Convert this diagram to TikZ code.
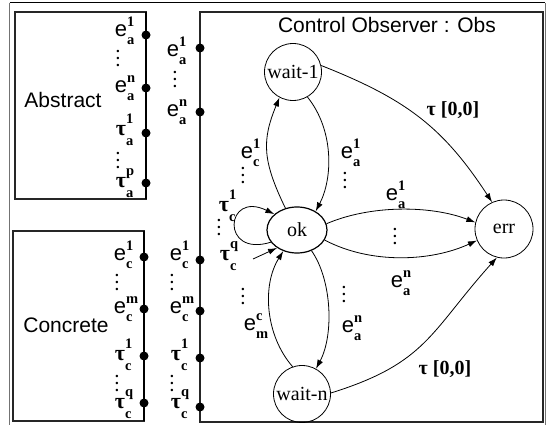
\documentclass[tikz,border=0pt]{standalone}
\usepackage{fontspec}
\setmainfont{Liberation Serif}
\setsansfont{Liberation Sans}
\usetikzlibrary{arrows.meta,shapes.geometric}
\newcommand\scr{\fontsize{14.5}{14.5}\selectfont\rmfamily\bfseries}
\newcommand\Ebase{{\sffamily\mdseries\fontsize{22}{22}\selectfont e}}
\newcommand\Tbase{{\rmfamily\bfseries\fontsize{22}{22}\selectfont τ}}
\newcommand\lblx[5]{\setbox0=\hbox{\scr #2}\setbox2=\hbox{\scr #3}#1\rlap{\raise#4\copy0}\rlap{\lower#5\copy2}\hskip\ifdim\wd0>\wd2 \wd0\else\wd2\fi\relax}
\newcommand\ee[2]{\lblx{\Ebase}{#1}{#2}{10pt}{8pt}}
\newcommand\ttau[2]{\lblx{\Tbase}{#1}{#2}{12pt}{10pt}}
\newcommand\vd{\vbox{\fontsize{15}{7}\selectfont\rmfamily\bfseries\baselineskip=7pt\lineskiplimit=-20pt\hbox{.}\hbox{.}\hbox{.}}}
\tikzset{
  lab/.style={inner sep=0pt, anchor=base},
  dts/.style={inner sep=0pt},
  port/.style={circle, fill=black, inner sep=0pt, minimum size=9pt},
  st/.style={circle, draw, line width=0.8pt, inner sep=1pt, minimum size=57pt, font=\rmfamily\fontsize{20}{22}\selectfont},
  arr/.style={-{Latex[length=9pt,width=6pt]}, line width=0.8pt},
  boxl/.style={draw=black!85, line width=1.6pt},
  big/.style={font=\sffamily\fontsize{21}{24}\selectfont, inner sep=0pt},
  tl/.style={font=\rmfamily\bfseries\fontsize{20}{22}\selectfont, inner sep=0pt}
}
\begin{document}
\begin{tikzpicture}[x=1pt,y=-1pt]
\useasboundingbox (0,0) rectangle (548,425);
% outer frame
\draw[black!55, line width=1pt] (9.5,427) -- (9.5,3);
\draw[black, line width=1pt] (9.5,3) -- (545,3);
\draw[black!55, line width=1pt] (545,3) -- (545,427);
% boxes
\draw[boxl] (15,12) rectangle (146,199);
\draw[black, line width=2pt] (146,12) -- (146,199);
\draw[boxl] (13,231) rectangle (144,421);
\draw[black, line width=2pt] (144,231) -- (144,421);
\draw[boxl] (200,12) rectangle (543,422);

\node[big] (abs) at (63,100) {Abstract};
\node[big] (con) at (66,325) {Concrete};
\node[big] (title) at (387,25) {Control Observer : Obs};

% ports
\foreach \y [count=\i] in {35,88,133,183} \node[port] (pa\i) at (146,\y) {};
\foreach \y [count=\i] in {257,309,356,403} \node[port] (pc\i) at (144,\y) {};
\foreach \y [count=\i] in {48,112,260,311,358,407} \node[port] (po\i) at (200,\y) {};

% abstract labels
\node[lab] (la1) at (121,37) {\ee{1}{a}};
\node[dts] (lad1) at (118,58) {\vd};
\node[lab] (lan) at (121,93) {\ee{n}{a}};
\node[lab] (lt1) at (121,135) {\ttau{1}{a}};
\node[dts] (lad2) at (118,160) {\vd};
\node[lab] (ltp) at (121,187) {\ttau{p}{a}};
\node[lab] (oa1) at (173,57) {\ee{1}{a}};
\node[dts] (oad) at (175,79) {\vd};
\node[lab] (oan) at (173,117) {\ee{n}{a}};

% concrete labels
\node[lab] (lc1) at (120,260) {\ee{1}{c}};
\node[dts] (lcd1) at (117,282) {\vd};
\node[lab] (lcm) at (120,313) {\ee{m}{c}};
\node[lab] (ltc1) at (120,360) {\ttau{1}{c}};
\node[dts] (lcd2) at (117,383) {\vd};
\node[lab] (ltcq) at (120,408) {\ttau{q}{c}};
\node[lab] (oc1) at (176,260) {\ee{1}{c}};
\node[dts] (ocd1) at (172,282) {\vd};
\node[lab] (ocm) at (176,313) {\ee{m}{c}};
\node[lab] (otc1) at (176,360) {\ttau{1}{c}};
\node[dts] (ocd2) at (172,383) {\vd};
\node[lab] (otcq) at (176,408) {\ttau{q}{c}};

% states
\node[st] (wait1) at (293,72) {wait-1};
\node[st] (waitn) at (302,394) {wait-n};
\node[st, minimum size=58pt] (err) at (504,229) {err};
\node[ellipse, draw, line width=1.2pt, minimum width=60pt, minimum height=46pt, inner sep=0pt, font=\rmfamily\fontsize{20}{22}\selectfont] (ok) at (297,230) {ok};

% transitions
\draw[arr] (wait1.13) .. controls (406,99) and (443,127) .. (err.114);
\draw[arr] (waitn.2) .. controls (427,363) and (430,332) .. (err.256);
\draw[arr] (ok.118) .. controls (262,160) and (262,140) .. (wait1.242);
\draw[arr] (wait1.300) .. controls (334,130) and (333,178) .. (ok.45);
\draw[arr] (ok.305) .. controls (332,280) and (334,335) .. (waitn.61);
\draw[arr] (waitn.109) .. controls (265,335) and (262,285) .. (ok.237);
\draw[arr] (ok.12) .. controls (370,205) and (430,205) .. (err.167);
\draw[arr] (ok.340) .. controls (370,264) and (430,262) .. (err.203);
\draw[arr] (ok.205) .. controls (220,258) and (225,190) .. (ok.145);
\coordinate (init) at (253,259);
\draw[arr] (init) -- (ok.222);

% transition labels
\node[tl] (t1) at (453,110) {τ [0,0]};
\node[tl] (t2) at (445,369) {τ [0,0]};
\node[lab] (lc) at (247,158) {\ee{1}{c}};
\node[dts] (lcd) at (243,175) {\vd};
\node[lab] (ld) at (347,158) {\ee{1}{a}};
\node[dts] (ldd) at (345,180) {\vd};
\node[dts] (led) at (344,294) {\vd};
\node[lab] (le) at (348,332) {\ee{n}{a}};
\node[dts] (lfd) at (243,296) {\vd};
\node[lab] (lf) at (250,330) {\ee{c}{m}};
\node[lab] (lg) at (392,200) {\ee{1}{a}};
\node[dts] (lmd) at (395,236) {\vd};
\node[lab] (lh) at (397,287) {\ee{n}{a}};
\node[lab] (ll1) at (224,211) {\ttau{1}{c}};
\node[dts] (lld) at (219,227) {\vd};
\node[lab] (llq) at (225,260) {\ttau{q}{c}};
\end{tikzpicture}
\end{document}
